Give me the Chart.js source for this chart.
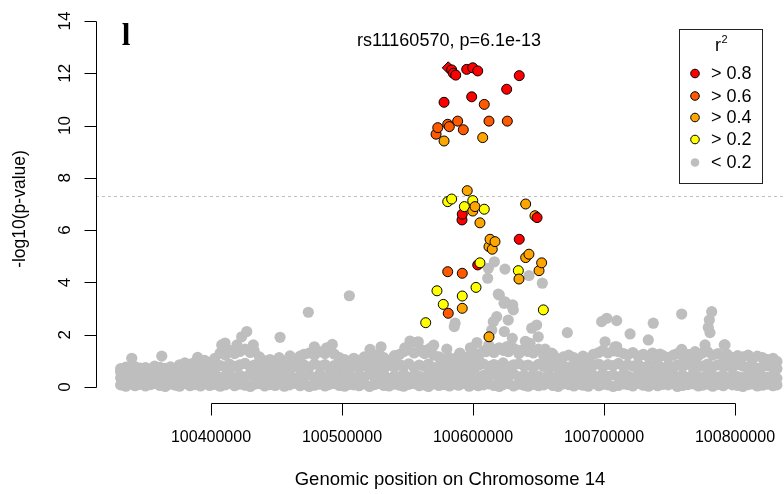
<!DOCTYPE html>
<html>
<head>
<meta charset="utf-8">
<script src="https://cdn.jsdelivr.net/npm/chart.js@4/dist/chart.umd.min.js"></script>
<style>
  html, body { margin: 0; padding: 0; background: #fff; }
  #wrap { width: 784px; height: 494px; }
</style>
</head>
<body>
<div id="wrap"><canvas id="locus"></canvas></div>
<script>
// positions are in kb on chromosome 14, values are -log10(p)
var leadSnp = 'rs11160570';
var leadPval = '6.1e-13';
var leadPosKb = 100581.1;
var leadLogP = 12.21;
var gwasLine = 7.3;

var r2Labels = ['> 0.8', '> 0.6', '> 0.4', '> 0.2', '< 0.2'];
var r2Colors = ['#FF0000', '#FF5A00', '#FFA500', '#FFFF00', '#BEBEBE'];

var pos08 = [100583.7, 100585.0, 100586.8, 100595.2, 100599.8, 100603.6, 100635.3, 100625.7, 100577.9, 100599.0,
  100591.8, 100591.6, 100648.9, 100635.3, 100603.6];
var logp08 = [12.13, 12.00, 11.93, 12.15, 12.21, 12.09, 11.91, 11.39, 10.89, 11.10,
  6.61, 6.39, 6.48, 5.65, 4.67];

var pos06 = [100608.6, 100612.2, 100626.2, 100580.7, 100581.9, 100588.3, 100592.6, 100573.1, 100571.8, 100580.7,
  100591.8, 100581.1];
var logp06 = [10.81, 10.17, 10.17, 10.05, 9.96, 10.17, 9.84, 9.92, 9.67, 4.41,
  4.35, 2.82];

var pos04 = [100577.9, 100607.4, 100595.6, 100601.5, 100599.8, 100605.3, 100640.2, 100647.3, 100613.0, 100616.8,
  100612.2, 100614.7, 100640.2, 100642.7, 100652.4, 100650.4, 100635.1, 100591.8, 100612.2];
var logp04 = [9.41, 9.54, 7.51, 6.90, 6.73, 6.28, 7.00, 6.55, 5.65, 5.56,
  5.37, 5.27, 4.95, 5.08, 4.75, 4.45, 4.13, 3.01, 1.92];

var pos02 = [100580.7, 100583.7, 100599.8, 100593.4, 100608.6, 100605.3, 100634.6, 100572.5, 100591.8, 100602.3,
  100577.3, 100563.9, 100653.7];
var logp02 = [7.09, 7.19, 7.13, 6.90, 6.80, 4.75, 4.45, 3.68, 3.48, 3.81,
  3.16, 2.46, 2.95];

// r2 < 0.2: the dense background band, four layers sharing positions
var grayPos = [
  100331, 100335, 100338, 100342, 100346, 100350, 100354, 100357, 100361, 100365,
  100369, 100373, 100376, 100380, 100384, 100388, 100392, 100395, 100399, 100403,
  100407, 100411, 100414, 100418, 100422, 100426, 100430, 100433, 100437, 100441,
  100445, 100449, 100452, 100456, 100460, 100464, 100468, 100471, 100475, 100479,
  100483, 100487, 100490, 100494, 100498, 100502, 100506, 100509, 100513, 100517,
  100521, 100525, 100528, 100532, 100536, 100540, 100544, 100547, 100551, 100555,
  100559, 100563, 100566, 100570, 100574, 100578, 100582, 100585, 100589, 100593,
  100597, 100601, 100604, 100608, 100612, 100616, 100620, 100623, 100627, 100631,
  100635, 100639, 100642, 100646, 100650, 100654, 100658, 100661, 100665, 100669,
  100673, 100677, 100680, 100684, 100688, 100692, 100696, 100699, 100703, 100707,
  100711, 100715, 100718, 100722, 100726, 100730, 100734, 100737, 100741, 100745,
  100749, 100753, 100756, 100760, 100764, 100768, 100772, 100775, 100779, 100783,
  100787, 100791, 100794, 100798, 100802, 100806, 100810, 100813, 100817, 100821,
  100825, 100829, 100832];
var grayLow = [
  0.08, 0.03, 0.12, 0.05, 0.10, 0.04, 0.09, 0.14, 0.06, 0.02, 0.11, 0.07, 0.03, 0.13, 0.05,
  0.09, 0.04, 0.12, 0.06, 0.10, 0.03, 0.08, 0.15, 0.05, 0.11, 0.07, 0.02, 0.10, 0.13, 0.04,
  0.09, 0.06, 0.12, 0.03, 0.08, 0.14, 0.05, 0.10, 0.02, 0.07, 0.11, 0.04, 0.09, 0.13, 0.06,
  0.03, 0.10, 0.08, 0.05, 0.12, 0.02, 0.09, 0.14, 0.06, 0.04, 0.11, 0.07, 0.03, 0.10, 0.13,
  0.05, 0.08, 0.02, 0.12, 0.06, 0.09, 0.04, 0.11, 0.07, 0.14, 0.03, 0.10, 0.05, 0.08, 0.12,
  0.06, 0.02, 0.09, 0.13, 0.04, 0.11, 0.07, 0.03, 0.10, 0.05, 0.08, 0.14, 0.06, 0.02, 0.12,
  0.09, 0.04, 0.11, 0.07, 0.03, 0.13, 0.05, 0.10, 0.08, 0.02, 0.06, 0.12, 0.09, 0.04, 0.14,
  0.07, 0.03, 0.11, 0.05, 0.10, 0.08, 0.13, 0.02, 0.06, 0.09, 0.12, 0.04, 0.07, 0.11, 0.03,
  0.10, 0.05, 0.14, 0.08, 0.06, 0.02, 0.09, 0.12, 0.04, 0.07, 0.11, 0.05, 0.08];
var grayMid = [
  0.35, 0.42, 0.30, 0.47, 0.38, 0.33, 0.45, 0.29, 0.40, 0.36, 0.48, 0.31, 0.43, 0.37, 0.34,
  0.46, 0.39, 0.32, 0.44, 0.50, 0.36, 0.41, 0.47, 0.33, 0.45, 0.38, 0.52, 0.35, 0.42, 0.30,
  0.46, 0.37, 0.40, 0.34, 0.48, 0.31, 0.43, 0.39, 0.45, 0.36, 0.50, 0.33, 0.41, 0.47, 0.38,
  0.35, 0.44, 0.30, 0.42, 0.37, 0.49, 0.34, 0.40, 0.46, 0.32, 0.43, 0.38, 0.51, 0.36, 0.45,
  0.41, 0.33, 0.48, 0.39, 0.44, 0.37, 0.50, 0.35, 0.42, 0.47, 0.40, 0.52, 0.38, 0.45, 0.43,
  0.49, 0.36, 0.46, 0.41, 0.50, 0.39, 0.44, 0.37, 0.48, 0.42, 0.35, 0.46, 0.32, 0.40, 0.44,
  0.38, 0.47, 0.34, 0.43, 0.39, 0.45, 0.36, 0.49, 0.41, 0.46, 0.38, 0.50, 0.43, 0.35, 0.47,
  0.40, 0.44, 0.37, 0.48, 0.33, 0.42, 0.46, 0.39, 0.45, 0.36, 0.49, 0.41, 0.34, 0.47, 0.43,
  0.38, 0.45, 0.32, 0.44, 0.40, 0.36, 0.47, 0.42, 0.35, 0.41, 0.38, 0.44, 0.33];
var grayUp = [
  0.58, 0.62, 0.55, 0.66, 0.60, 0.57, 0.63, 0.59, 0.68, 0.56, 0.61, 0.54, 0.64, 0.70, 0.62,
  0.72, 0.66, 0.75, 0.69, 0.78, 0.82, 0.74, 0.88, 0.79, 0.85, 0.90, 0.77, 0.84, 0.72, 0.68,
  0.75, 0.70, 0.80, 0.66, 0.73, 0.78, 0.71, 0.84, 0.76, 0.88, 0.80, 0.86, 0.74, 0.82, 0.70,
  0.76, 0.68, 0.79, 0.72, 0.81, 0.85, 0.74, 0.78, 0.70, 0.83, 0.77, 0.86, 0.80, 0.89, 0.75,
  0.84, 0.79, 0.88, 0.73, 0.81, 0.76, 0.85, 0.72, 0.80, 0.87, 0.78, 0.90, 0.83, 0.88, 0.79,
  0.86, 0.81, 0.92, 0.77, 0.85, 0.89, 0.80, 0.84, 0.76, 0.87, 0.79, 0.74, 0.83, 0.71, 0.80,
  0.76, 0.85, 0.72, 0.81, 0.78, 0.84, 0.88, 0.79, 0.86, 0.82, 0.90, 0.77, 0.85, 0.80, 0.88,
  0.74, 0.82, 0.78, 0.86, 0.73, 0.81, 0.76, 0.84, 0.79, 0.87, 0.75, 0.83, 0.80, 0.88, 0.77,
  0.85, 0.79, 0.82, 0.74, 0.86, 0.80, 0.76, 0.84, 0.71, 0.78, 0.82, 0.75, 0.70];
var grayTop = [
  0.70, 0.76, 0.68, 0.78, 0.72, 0.74, 0.69, 0.80, 0.75, 0.71, 0.77, 0.72, 0.85, 0.92, 0.88,
  0.96, 0.90, 1.02, 0.94, 1.10, 1.30, 1.22, 1.40, 1.28, 1.36, 1.45, 1.32, 1.38, 1.15, 1.00,
  1.05, 0.95, 1.12, 0.98, 1.08, 1.02, 1.18, 1.25, 1.30, 1.22, 1.35, 1.28, 1.40, 1.26, 1.12,
  1.05, 0.98, 1.10, 1.02, 1.15, 1.20, 1.08, 1.25, 1.12, 1.00, 1.10, 1.25, 1.35, 1.42, 1.30,
  1.38, 1.28, 1.40, 1.22, 1.15, 1.05, 1.12, 0.98, 1.20, 1.10, 1.18, 1.30, 1.25, 1.38, 1.45,
  1.32, 1.50, 1.40, 1.35, 1.48, 1.28, 1.42, 1.36, 1.30, 1.45, 1.20, 1.10, 1.25, 1.08, 1.15,
  1.22, 1.12, 1.05, 1.18, 1.10, 1.25, 1.32, 1.40, 1.30, 1.38, 1.35, 1.28, 1.22, 1.32, 1.18,
  1.25, 1.15, 1.30, 1.10, 1.20, 1.12, 1.22, 1.28, 1.18, 1.25, 1.15, 1.20, 1.30, 1.35, 1.22,
  1.28, 1.18, 1.25, 1.12, 1.20, 1.15, 1.22, 1.08, 1.18, 1.12, 1.05, 1.10, 0.98];

// r2 < 0.2: scattered SNPs above the band
var grayOutPos = [
  100339.5, 100362.4, 100389.8, 100408.2, 100410.7, 100419.8, 100423.4, 100427.3, 100432.3, 100452.7,
  100460.3, 100474.3, 100478.9, 100488.3, 100492.6, 100505.6, 100521.4, 100529.8, 100551.9, 100558.2,
  100557.0, 100567.2, 100616.3, 100611.7, 100611.2, 100624.4, 100642.7, 100652.9, 100619.3, 100624.4,
  100630.0, 100618.1, 100615.5, 100626.9, 100623.9, 100614.3, 100630.0, 100644.8, 100648.6, 100649.8,
  100643.5, 100586.3, 100585.7, 100609.7, 100604.0, 100593.9, 100620.1, 100623.7, 100630.3, 100630.8,
  100672.0, 100698.2, 100702.1, 100709.7, 100719.9, 100733.8, 100737.6, 100759.3, 100782.2, 100780.4,
  100779.6, 100780.9, 100709.7, 100700.8, 100792.4, 100759.3, 100777.1, 100708.4, 100742.7, 100791.8,
  100769.5, 100598.0, 100603.0, 100612.0, 100618.0, 100626.0, 100636.0, 100640.0, 100655.0, 100660.0,
  100590.0, 100580.0, 100570.0, 100562.0, 100548.0, 100540.0];
var grayOutLogP = [
  1.10, 1.18, 1.13, 1.61, 1.68, 1.61, 1.92, 2.12, 1.61, 1.90,
  1.19, 2.86, 1.54, 1.50, 1.63, 3.49, 1.44, 1.54, 1.76, 1.73,
  1.71, 1.48, 4.79, 4.54, 4.16, 4.51, 4.26, 3.97, 3.55, 3.26,
  3.07, 2.69, 2.50, 2.56, 2.12, 2.18, 1.86, 2.25, 2.37, 1.92,
  1.67, 2.44, 2.31, 1.35, 1.10, 0.91, 3.52, 3.20, 3.14, 2.95,
  2.08, 2.50, 2.63, 2.54, 2.03, 1.80, 2.44, 2.79, 2.88, 2.56,
  2.28, 2.08, 1.54, 1.73, 1.61, 1.44, 1.61, 1.54, 1.26, 1.61,
  1.35, 1.50, 1.70, 1.60, 1.45, 1.55, 1.40, 1.75, 1.45, 1.30,
  1.30, 1.45, 1.60, 1.40, 1.50, 1.20];

var xTicks = [100400000, 100500000, 100600000, 100700000, 100800000];
var yTicks = [0, 2, 4, 6, 8, 10, 12, 14];

var FONT = "'Liberation Sans', Arial, sans-serif";

// background SNPs
var grayData = [];
[grayLow, grayMid, grayUp, grayTop].forEach(function(layer) {
  for (var i = 0; i < grayPos.length; i++) {
    grayData.push({x: grayPos[i] * 1000, y: layer[i]});
  }
});
for (var i = 0; i < grayOutPos.length; i++) {
  grayData.push({x: grayOutPos[i] * 1000, y: grayOutLogP[i]});
}

// SNPs in LD with the lead, drawn in position order
var ldPoints = [];
[[pos08, logp08], [pos06, logp06], [pos04, logp04], [pos02, logp02]].forEach(function(set, k) {
  for (var i = 0; i < set[0].length; i++) {
    ldPoints.push({x: set[0][i] * 1000, y: set[1][i], color: r2Colors[k], style: 'circle', r: 5});
  }
});
ldPoints.push({x: leadPosKb * 1000, y: leadLogP, color: r2Colors[0], style: 'rectRot', r: 6});
ldPoints.sort(function(a, b) { return a.x - b.x; });

var decorations = {
  id: 'decorations',
  beforeDatasetsDraw: function(chart) {
    var ctx = chart.ctx, area = chart.chartArea, y = chart.scales.y;
    var yy = Math.round(y.getPixelForValue(gwasLine)) + 0.5;
    ctx.save();
    ctx.strokeStyle = '#C0C0C0';
    ctx.lineWidth = 1;
    ctx.setLineDash([3, 3]);
    ctx.beginPath();
    ctx.moveTo(area.left, yy);
    ctx.lineTo(area.right, yy);
    ctx.stroke();
    ctx.restore();
  },
  afterDraw: function(chart) {
    var ctx = chart.ctx, x = chart.scales.x, y = chart.scales.y;
    ctx.save();
    ctx.strokeStyle = '#000';
    ctx.fillStyle = '#000';
    ctx.lineWidth = 1;

    // y axis
    var ax = 96.5;
    var y0 = Math.round(y.getPixelForValue(yTicks[0])) + 0.5;
    var y1 = Math.round(y.getPixelForValue(yTicks[yTicks.length - 1])) + 0.5;
    ctx.beginPath();
    ctx.moveTo(ax, y0);
    ctx.lineTo(ax, y1);
    yTicks.forEach(function(t) {
      var py = Math.round(y.getPixelForValue(t)) + 0.5;
      ctx.moveTo(ax, py);
      ctx.lineTo(ax - 12, py);
    });
    ctx.stroke();
    ctx.font = '17px ' + FONT;
    ctx.textAlign = 'center';
    ctx.textBaseline = 'middle';
    yTicks.forEach(function(t) {
      var py = y.getPixelForValue(t);
      ctx.save();
      ctx.translate(65, py);
      ctx.rotate(-Math.PI / 2);
      ctx.fillText(String(t), 0, 0);
      ctx.restore();
    });

    // x axis
    var ay = 403.5;
    var x0 = Math.round(x.getPixelForValue(xTicks[0])) + 0.5;
    var x1 = Math.round(x.getPixelForValue(xTicks[xTicks.length - 1])) + 0.5;
    ctx.beginPath();
    ctx.moveTo(x0, ay);
    ctx.lineTo(x1, ay);
    xTicks.forEach(function(t) {
      var px = Math.round(x.getPixelForValue(t)) + 0.5;
      ctx.moveTo(px, ay);
      ctx.lineTo(px, ay + 12);
    });
    ctx.stroke();
    ctx.font = '16px ' + FONT;
    xTicks.forEach(function(t) {
      ctx.fillText(String(t), x.getPixelForValue(t), 438);
    });

    // axis titles and heading
    ctx.font = '18.5px ' + FONT;
    ctx.fillText('Genomic position on Chromosome 14', 450, 480);
    ctx.font = '18px ' + FONT;
    ctx.fillText(leadSnp + ', p=' + leadPval, 449, 41);
    ctx.font = '17.5px ' + FONT;
    ctx.save();
    ctx.translate(20, 209);
    ctx.rotate(-Math.PI / 2);
    ctx.fillText('-log10(p-value)', 0, 0);
    ctx.restore();

    ctx.font = "bold 31px 'Liberation Serif', 'Times New Roman', serif";
    ctx.textBaseline = 'alphabetic';
    ctx.fillText('l', 126, 45);

    // r2 legend
    ctx.strokeStyle = '#222';
    ctx.strokeRect(679.5, 29.5, 83, 154);
    ctx.font = '18px ' + FONT;
    ctx.fillText('r', 718, 51);
    ctx.font = '11px ' + FONT;
    ctx.textAlign = 'left';
    ctx.fillText('2', 721.5, 43);
    ctx.font = '18px ' + FONT;
    ctx.textBaseline = 'middle';
    var rowY = [73.5, 96, 117.5, 139.5, 162.5];
    r2Labels.forEach(function(lab, i) {
      ctx.beginPath();
      ctx.arc(695, rowY[i], 4.3, 0, Math.PI * 2);
      ctx.fillStyle = r2Colors[i];
      ctx.fill();
      if (i < 4) {
        ctx.strokeStyle = '#000';
        ctx.stroke();
      }
      ctx.fillStyle = '#000';
      ctx.fillText(lab, 711, rowY[i] + 1);
    });
    ctx.restore();
  }
};

new Chart(document.getElementById('locus'), {
  type: 'scatter',
  data: {
    datasets: [
      {
        label: 'ld',
        data: ldPoints,
        pointBackgroundColor: ldPoints.map(function(p) { return p.color; }),
        pointStyle: ldPoints.map(function(p) { return p.style; }),
        pointRadius: ldPoints.map(function(p) { return p.r; }),
        pointBorderColor: '#000',
        pointBorderWidth: 1
      },
      {
        label: 'background',
        data: grayData,
        pointBackgroundColor: r2Colors[4],
        pointBorderWidth: 0,
        pointRadius: 5.6
      }
    ]
  },
  options: {
    responsive: true,
    maintainAspectRatio: false,
    devicePixelRatio: 1,
    animation: false,
    events: [],
    layout: { autoPadding: false, padding: { left: 96, right: 0, top: 21, bottom: 91 } },
    plugins: { legend: { display: false }, tooltip: { enabled: false }, title: { display: false } },
    scales: {
      x: { type: 'linear', min: 100312210, max: 100837400, display: false },
      y: { type: 'linear', min: -0.612, max: 14, display: false }
    }
  },
  plugins: [decorations]
});
</script>
</body>
</html>
